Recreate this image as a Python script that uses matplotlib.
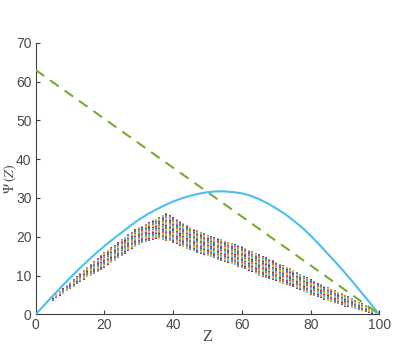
import matplotlib
matplotlib.use('Agg')
import matplotlib.pyplot as plt

# MATLAB-like colour order used for the simulated points
colors = ('#0072BD', '#D95319', '#EDB120', '#7E2F8E', '#77AC30', '#4DBEEE', '#A2142F')

# cyan curve
curve_z = [0, 2.5, 5, 7.5, 10, 12.5, 15, 17.5, 20, 22.5, 25, 27.5, 30, 32.5, 35, 37.5, 40,
           42.5, 45, 47.5, 50, 52.5, 55, 57.5, 60, 62.5, 65, 67.5, 70, 72.5, 75, 77.5, 80,
           82.5, 85, 87.5, 90, 92.5, 95, 97.5, 100]
curve_psi = [0, 2.4, 4.8, 7.1, 9.4, 11.6, 13.7, 15.7, 17.6, 19.4, 21.1, 22.8, 24.4, 25.8,
             27.0, 28.1, 29.1, 29.9, 30.6, 31.1, 31.5, 31.7, 31.7, 31.5, 31.2, 30.6, 29.7,
             28.6, 27.3, 25.9, 24.2, 22.4, 20.3, 18.0, 15.6, 13.2, 10.7, 8.1, 5.4, 2.7, 0]

# green dashed line
line_z = [0, 100]
line_psi = [63, 0]

# point cloud: one column per integer Z, lowest and highest point in each column
col_z = list(range(5, 100))
col_hi = [4.5, 5.3, 6.1, 6.8, 7.6, 8.4, 9.2, 9.9, 10.7, 11.5, 12.2, 13.0, 13.8, 14.5, 15.3,
          16.0, 16.7, 17.3, 18.0, 18.6, 19.3, 19.9, 20.6, 21.2, 21.9, 22.5, 22.9, 23.4, 23.8,
          24.3, 24.7, 25.2, 25.6, 26.0, 25.5, 25.0, 24.5, 24.0, 23.5, 23.0, 22.5, 22.1, 21.7,
          21.3, 20.9, 20.5, 20.2, 19.9, 19.6, 19.3, 19.0, 18.7, 18.4, 18.1, 17.8, 17.5, 17.1,
          16.7, 16.3, 15.9, 15.5, 15.1, 14.7, 14.3, 13.9, 13.5, 13.1, 12.7, 12.3, 11.9, 11.5,
          11.0, 10.5, 10.0, 9.5, 9.0, 8.6, 8.2, 7.8, 7.4, 7.0, 6.6, 6.2, 5.8, 5.4, 5.0, 4.6,
          4.1, 3.7, 3.2, 2.8, 2.3, 1.8, 1.3, 0.8]
col_lo = [3.5, 4.1, 4.7, 5.3, 5.9, 6.5, 7.1, 7.7, 8.3, 8.9, 9.5, 10.0, 10.5, 11.0, 11.5,
          12.0, 12.6, 13.2, 13.8, 14.4, 15.0, 15.6, 16.2, 16.8, 17.4, 18.0, 18.3, 18.6, 18.9,
          19.2, 19.5, 19.3, 19.2, 19.0, 18.8, 18.5, 18.1, 17.7, 17.3, 16.9, 16.5, 16.2, 15.9,
          15.6, 15.3, 15.0, 14.7, 14.4, 14.1, 13.8, 13.5, 13.2, 12.9, 12.6, 12.3, 12.0, 11.6,
          11.2, 10.8, 10.4, 10.0, 9.7, 9.4, 9.1, 8.8, 8.5, 8.2, 7.9, 7.6, 7.3, 7.0, 6.6, 6.2,
          5.8, 5.4, 5.0, 4.7, 4.4, 4.1, 3.8, 3.5, 3.2, 2.9, 2.6, 2.3, 2.0, 1.8, 1.5, 1.3, 1.0,
          0.8, 0.6, 0.4, 0.2, 0.0]

xticks = [0, 20, 40, 60, 80, 100]
yticks = [0, 10, 20, 30, 40, 50, 60, 70]

plt.rcParams['font.family'] = ['Liberation Sans', 'DejaVu Sans']
plt.rcParams['mathtext.fontset'] = 'stix'

fig = plt.figure(figsize=(3.95, 3.48), dpi=100)
ax = fig.add_axes([0.0904, 0.0968, 0.870, 0.780])

# stacked dashed vlines give the multicoloured dotted columns;
# the colour order is rotated from column to column so it looks mixed
n = len(colors)
on = 0.9
for i in range(n):
	seg_colors = [colors[(i + 3 * j) % n] for j in range(len(col_z))]
	ax.vlines(col_z, col_lo, col_hi, colors=seg_colors, linewidth=1.3,
			  linestyles=[(i * on, (on, (n - 1) * on))], zorder=2)

ax.plot(line_z, line_psi, color='#77AC30', linewidth=1.5, dashes=(5, 3.5), zorder=3)
ax.plot(curve_z, curve_psi, color='#4DBEEE', linewidth=1.5, zorder=4)

ax.set_xlim(0, 100)
ax.set_ylim(0, 70)
ax.set_xticks(xticks)
ax.set_yticks(yticks)

for side in ('top', 'right'):
	ax.spines[side].set_visible(False)
for side in ('left', 'bottom'):
	ax.spines[side].set_color('#404040')
	ax.spines[side].set_linewidth(0.8)
ax.tick_params(direction='in', length=3, width=0.8, color='#404040',
			   labelcolor='#4a4a4a', labelsize=10, pad=3)

ax.set_xlabel('Z', family='Liberation Serif', fontsize=12, color='#4a4a4a')
ax.xaxis.set_label_coords(0.5, -0.055)
ax.set_ylabel(r'$\Psi\,(Z)$', fontsize=10, color='#4a4a4a')
ax.yaxis.set_label_coords(-0.05, 0.5)

fig.savefig('out.png', dpi=100)
